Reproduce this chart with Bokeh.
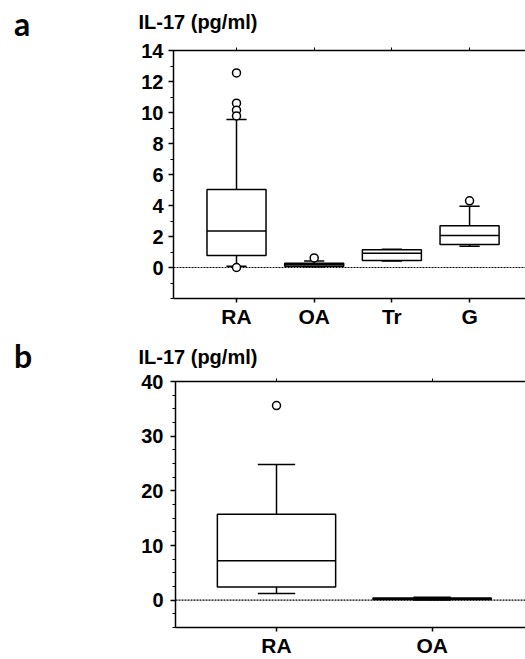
from bokeh.plotting import figure
from bokeh.layouts import column, row
from bokeh.models import FixedTicker, LinearAxis, Range1d, Span, ColumnDataSource, Title, Div
from bokeh.embed import file_html
from bokeh.resources import INLINE

# ---------------- data ----------------
cats_a = ["RA", "OA", "Tr", "G"]
a_lo = [0.08, 0.05, 0.42, 1.37]
a_q1 = [0.77, 0.08, 0.45, 1.48]
a_med = [2.35, 0.17, 0.92, 2.06]
a_q3 = [5.03, 0.28, 1.15, 2.70]
a_hi = [9.55, 0.42, 1.18, 3.95]
a_out_cat = ["RA", "RA", "RA", "RA", "RA", "OA", "G"]
a_out_val = [12.55, 10.6, 10.15, 9.78, 0.0, 0.62, 4.3]
a_major = [0, 2, 4, 6, 8, 10, 12, 14]
a_minor = [-2, -1, 0, 1, 2, 3, 4, 5, 6, 7, 8, 9, 10, 11, 12, 13, 14]

cats_b = ["RA", "OA"]
b_lo = [1.2, 0.05]
b_q1 = [2.4, 0.10]
b_med = [7.2, 0.25]
b_q3 = [15.7, 0.40]
b_hi = [24.8, 0.55]
b_out_cat = ["RA"]
b_out_val = [35.6]
b_major = [0, 10, 20, 30, 40]
b_minor = [-5, -2.5, 0, 2.5, 5, 7.5, 10, 12.5, 15, 17.5, 20, 22.5, 25, 27.5,
           30, 32.5, 35, 37.5, 40]

y_title = "IL-17 (pg/ml)"

FONT = "Liberation Sans"
STRIP = 40  # width of the strip that holds the panel letter


def letter_strip(letter, height, pad_top):
    html = ('<div style="font-family: Lato, sans-serif; font-weight: bold; '
            'font-size: 32px; line-height: 32px; margin: 0; '
            f'padding: {pad_top}px 0 0 14px; color: black;">{letter}</div>')
    return Div(text=html, width=STRIP, height=height, margin=0)


def panel(cats, lo, q1, med, q3, hi, out_cat, out_val, major, minor,
          ylim, xlim, width, height, border_left, border_top, border_bottom,
          box_w, cap_w, title_offset, title_standoff, title_gap,
          tick_standoff):
    p = figure(width=width, height=height, output_backend="svg",
               toolbar_location=None, x_range=Range1d(*xlim),
               y_range=Range1d(*ylim), min_border_left=border_left,
               min_border_right=0, min_border_top=border_top,
               min_border_bottom=border_bottom)
    p.outline_line_color = None
    p.xgrid.visible = False
    p.ygrid.visible = False
    p.background_fill_color = "white"
    p.border_fill_color = "white"

    xs = [i + 1 for i in range(len(cats))]
    src = ColumnDataSource(dict(
        x=xs, lo=lo, q1=q1, med=med, q3=q3, hi=hi,
        bl=[x - box_w / 2 for x in xs], br=[x + box_w / 2 for x in xs],
        cl=[x - cap_w / 2 for x in xs], cr=[x + cap_w / 2 for x in xs]))

    p.add_layout(Span(location=0, dimension="width", line_color="black",
                      line_width=1.2, line_dash="2 1", level="underlay"))

    lw = 1.5
    p.segment(x0="x", y0="q3", x1="x", y1="hi", source=src, line_color="black", line_width=lw)
    p.segment(x0="x", y0="lo", x1="x", y1="q1", source=src, line_color="black", line_width=lw)
    p.segment(x0="cl", y0="hi", x1="cr", y1="hi", source=src, line_color="black", line_width=lw)
    p.segment(x0="cl", y0="lo", x1="cr", y1="lo", source=src, line_color="black", line_width=lw)
    p.vbar(x="x", width=box_w, bottom="q1", top="q3", source=src,
           fill_color="white", line_color="black", line_width=lw)
    p.segment(x0="bl", y0="med", x1="br", y1="med", source=src, line_color="black", line_width=lw)

    ox = [cats.index(c) + 1 for c in out_cat]
    p.scatter(ox, out_val, marker="circle", size=8, fill_color="white",
              line_color="black", line_width=1.5)

    # axes
    p.xaxis.ticker = FixedTicker(ticks=xs)
    p.xaxis.major_label_overrides = {x: c for x, c in zip(xs, cats)}
    p.xaxis.major_label_text_font = FONT
    p.xaxis.major_label_text_font_style = "bold"
    p.xaxis.major_label_text_font_size = "21px"
    p.xaxis.major_label_text_color = "black"
    p.xaxis.major_tick_out = 4
    p.xaxis.major_tick_in = 0
    p.xaxis.minor_tick_out = 0
    p.xaxis.minor_tick_in = 0
    p.xaxis.major_label_standoff = 2
    p.xaxis.axis_line_width = 1.5
    p.xaxis.major_tick_line_width = 1.5

    p.yaxis.ticker = FixedTicker(ticks=major, minor_ticks=minor)
    p.yaxis.major_label_text_font = FONT
    p.yaxis.major_label_text_font_style = "bold"
    p.yaxis.major_label_text_font_size = "20px"
    p.yaxis.major_label_text_color = "black"
    p.yaxis.major_tick_out = 5
    p.yaxis.major_tick_in = 0
    p.yaxis.minor_tick_out = 3
    p.yaxis.minor_tick_in = 0
    p.yaxis.major_label_standoff = tick_standoff
    p.yaxis.axis_line_width = 1.5
    p.yaxis.major_tick_line_width = 1.5

    # top frame line with small ticks at the categories
    top = LinearAxis(ticker=FixedTicker(ticks=xs),
                     major_label_overrides={x: "" for x in xs},
                     major_tick_out=3, major_tick_in=0,
                     minor_tick_out=0, minor_tick_in=0,
                     axis_line_width=1.5, major_label_standoff=0)
    p.add_layout(top, "above")

    # blank spacer line that lifts the title a little
    p.add_layout(Title(text=" ", text_font=FONT, text_font_size="1px",
                       standoff=title_gap), "above")

    p.add_layout(Title(text=y_title, text_font=FONT, text_font_style="bold",
                       text_font_size="20px", text_color="black",
                       align="left", offset=title_offset,
                       standoff=title_standoff), "above")
    return p


H_A = 331
H_B = 328

pa = panel(cats_a, a_lo, a_q1, a_med, a_q3, a_hi, a_out_cat, a_out_val,
           a_major, a_minor, ylim=(-2, 14), xlim=(0.189, 4.72),
           width=525 - STRIP, height=H_A, border_left=173 - STRIP, border_top=50,
           border_bottom=33, box_w=0.76, cap_w=0.26,
           title_offset=138 - 173, title_standoff=13, title_gap=5,
           tick_standoff=5)

pb = panel(cats_b, b_lo, b_q1, b_med, b_q3, b_hi, b_out_cat, b_out_val,
           b_major, b_minor, ylim=(-5, 40), xlim=(0.351, 2.60),
           width=525 - STRIP, height=H_B, border_left=175 - STRIP, border_top=50,
           border_bottom=31, box_w=0.76, cap_w=0.24,
           title_offset=138 - 175, title_standoff=5, title_gap=5,
           tick_standoff=7)

sa = letter_strip("a", H_A, 8)
sb = letter_strip("b", H_B, 9)

layout = column(row(sa, pa, spacing=0), row(sb, pb, spacing=0), spacing=0)
open("out.html", "w").write(file_html(layout, INLINE))
